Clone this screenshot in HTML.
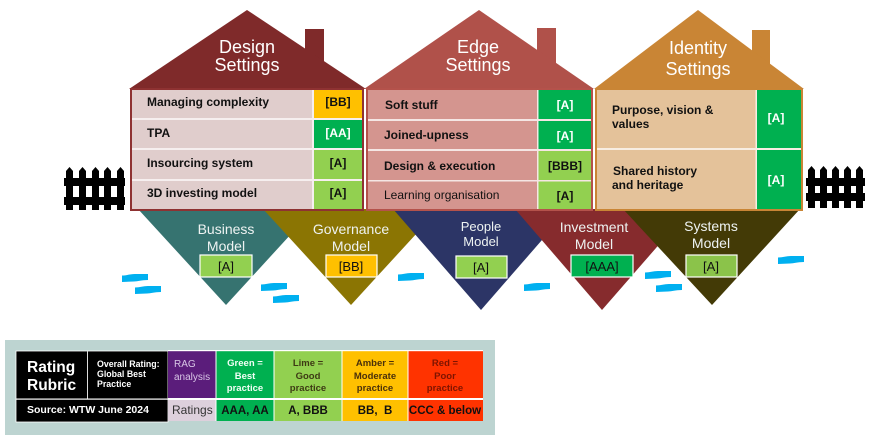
<!DOCTYPE html>
<html><head><meta charset="utf-8"><style>
html,body{margin:0;padding:0;background:#fff;width:871px;height:435px;overflow:hidden}
svg{display:block}
text{font-family:"Liberation Sans",Arial,sans-serif}
</style></head><body>
<svg width="871" height="435" viewBox="0 0 871 435" xmlns="http://www.w3.org/2000/svg">
<!-- triangles -->
<polygon points="138,209 314,209 226,305" fill="#367370"/>
<polygon points="263,209 439,209 351,305" fill="#8b7503"/>
<polygon points="393,209 569,209 481,310" fill="#2c3566"/>
<polygon points="515,209 690,209 602,310" fill="#862b2d"/>
<polygon points="623,209 800,209 712,305" fill="#433a06"/>

<!-- triangle labels -->
<g fill="#eef3f2" font-size="14" text-anchor="middle">
<text x="226" y="234">Business</text><text x="226" y="251">Model</text>
<text x="351" y="234">Governance</text><text x="351" y="251">Model</text>
<text x="481" y="231" font-size="13">People</text><text x="481" y="246" font-size="13">Model</text>
<text x="594" y="232">Investment</text><text x="594" y="249">Model</text>
<text x="711" y="231">Systems</text><text x="711" y="248">Model</text>
</g>
<g stroke="#fff" stroke-width="1.2">
<rect x="200" y="255" width="52" height="22" fill="#92d050"/>
<rect x="326" y="255" width="51" height="22" fill="#ffc000"/>
<rect x="456" y="256" width="51" height="22" fill="#92d050"/>
<rect x="571" y="255" width="62" height="22" fill="#00b050"/>
<rect x="686" y="255" width="51" height="22" fill="#8bc34a"/>
</g>
<g fill="#111" font-size="13" text-anchor="middle">
<text x="226" y="271">[A]</text>
<text x="351" y="271">[BB]</text>
<text x="481" y="272">[A]</text>
<text x="602" y="271">[AAA]</text>
<text x="711" y="271">[A]</text>
</g>

<!-- water dashes -->
<g fill="#00b0f0">
<path d="M0,1.5 C5,1.5 8,0 13,0 L26,0 L26,6 C19,6 16,7.5 12,7.5 L0,8 Z" transform="translate(122,274)"/>
<path d="M0,1.5 C5,1.5 8,0 13,0 L26,0 L26,6 C19,6 16,7.5 12,7.5 L0,8 Z" transform="translate(135,286)"/>
<path d="M0,1.5 C5,1.5 8,0 13,0 L26,0 L26,6 C19,6 16,7.5 12,7.5 L0,8 Z" transform="translate(261,283)"/>
<path d="M0,1.5 C5,1.5 8,0 13,0 L26,0 L26,6 C19,6 16,7.5 12,7.5 L0,8 Z" transform="translate(273,295)"/>
<path d="M0,1.5 C5,1.5 8,0 13,0 L26,0 L26,6 C19,6 16,7.5 12,7.5 L0,8 Z" transform="translate(398,273)"/>
<path d="M0,1.5 C5,1.5 8,0 13,0 L26,0 L26,6 C19,6 16,7.5 12,7.5 L0,8 Z" transform="translate(524,283)"/>
<path d="M0,1.5 C5,1.5 8,0 13,0 L26,0 L26,6 C19,6 16,7.5 12,7.5 L0,8 Z" transform="translate(645,271)"/>
<path d="M0,1.5 C5,1.5 8,0 13,0 L26,0 L26,6 C19,6 16,7.5 12,7.5 L0,8 Z" transform="translate(656,284)"/>
<path d="M0,1.5 C5,1.5 8,0 13,0 L26,0 L26,6 C19,6 16,7.5 12,7.5 L0,8 Z" transform="translate(778,256)"/>
</g>

<!-- fences -->
<g fill="#000">
<g transform="translate(64,167)">
<path d="M2,4 L5.5,0 L9,4 V43 H2Z"/><path d="M15,4 L18.5,0 L22,4 V43 H15Z"/><path d="M28,4 L31.5,0 L35,4 V43 H28Z"/><path d="M40,4 L43.5,0 L47,4 V43 H40Z"/><path d="M53,4 L56.5,0 L60,4 V43 H53Z"/>
<rect x="0" y="11" width="61" height="8"/><rect x="0" y="30" width="61" height="8"/>
</g>
<g transform="translate(806,166)">
<path d="M2,4 L5.5,0 L9,4 V42 H2Z"/><path d="M14,4 L17.5,0 L21,4 V42 H14Z"/><path d="M26,4 L29.5,0 L33,4 V42 H26Z"/><path d="M38,4 L41.5,0 L45,4 V42 H38Z"/><path d="M50,4 L53.5,0 L57,4 V42 H50Z"/>
<rect x="0" y="12" width="59" height="8"/><rect x="0" y="27" width="59" height="8"/>
</g>
</g>

<!-- Design house -->
<rect x="305" y="29" width="19" height="50" fill="#7f2a2a"/>
<polygon points="129,89 247,10 366,89" fill="#7f2a2a"/>
<rect x="131" y="89" width="232" height="121" fill="#e0cdcc" stroke="#8e3232" stroke-width="2"/>
<rect x="314" y="90" width="48" height="28" fill="#ffc000"/>
<rect x="314" y="120" width="48" height="28" fill="#00b050"/>
<rect x="314" y="150" width="48" height="29" fill="#92d050"/>
<rect x="314" y="181" width="48" height="28" fill="#92d050"/>
<g fill="#f6efef"><rect x="132" y="118" width="230" height="2"/><rect x="132" y="148" width="230" height="2"/><rect x="132" y="179" width="230" height="2"/><rect x="312" y="90" width="2" height="119"/></g>
<g fill="#fff" font-size="18" text-anchor="middle"><text x="247" y="53">Design</text><text x="247" y="71">Settings</text></g>
<g font-size="12" font-weight="bold" fill="#111">
<text x="147" y="106">Managing complexity</text>
<text x="147" y="137">TPA</text>
<text x="147" y="167">Insourcing system</text>
<text x="147" y="197">3D investing model</text>
<g text-anchor="middle"><text x="338" y="106">[BB]</text><text x="338" y="137" fill="#fff">[AA]</text><text x="338" y="167">[A]</text><text x="338" y="197">[A]</text></g>
</g>

<!-- Edge house -->
<rect x="537" y="28" width="19" height="50" fill="#b0514a"/>
<polygon points="364,89 479,10 594,89" fill="#b0514a"/>
<rect x="367" y="89" width="225" height="121" fill="#d4958f" stroke="#b4524b" stroke-width="2"/>
<rect x="538" y="90" width="53" height="29" fill="#00b050"/>
<rect x="538" y="121" width="53" height="28" fill="#00b050"/>
<rect x="538" y="151" width="53" height="29" fill="#92d050"/>
<rect x="538" y="181" width="53" height="28" fill="#92d050"/>
<g fill="#f5e6e4"><rect x="368" y="119" width="223" height="2"/><rect x="368" y="149" width="223" height="2"/><rect x="368" y="180" width="223" height="1.5"/><rect x="537" y="90" width="1.5" height="119"/></g>
<g fill="#fff" font-size="18" text-anchor="middle"><text x="478" y="53">Edge</text><text x="478" y="71">Settings</text></g>
<g font-size="12" fill="#111">
<text x="385" y="109" font-weight="bold">Soft stuff</text>
<text x="384" y="139" font-weight="bold">Joined-upness</text>
<text x="384" y="170" font-weight="bold">Design &amp; execution</text>
<text x="384" y="199">Learning organisation</text>
<g text-anchor="middle" font-weight="bold"><text x="565" y="109" fill="#fff">[A]</text><text x="565" y="140" fill="#fff">[A]</text><text x="565" y="170">[BBB]</text><text x="565" y="200">[A]</text></g>
</g>

<!-- Identity house -->
<rect x="752" y="30" width="18" height="45" fill="#c98535"/>
<polygon points="594,89 698,10 804,89" fill="#c98535"/>
<rect x="596" y="89" width="206" height="121" fill="#e4c29a" stroke="#c98535" stroke-width="2"/>
<rect x="757" y="90" width="44" height="58" fill="#00b050"/>
<rect x="757" y="150" width="44" height="59" fill="#00b050"/>
<g fill="#f7ede2"><rect x="597" y="148" width="204" height="2"/><rect x="755.5" y="90" width="1.5" height="119"/></g>
<g fill="#fff" font-size="18" text-anchor="middle"><text x="698" y="54">Identity</text><text x="698" y="75">Settings</text></g>
<g font-size="12" font-weight="bold" fill="#111">
<text x="612" y="114">Purpose, vision &amp;</text>
<text x="612" y="128">values</text>
<text x="613" y="175">Shared history</text>
<text x="612" y="189">and heritage</text>
<g text-anchor="middle" fill="#fff"><text x="776" y="122">[A]</text><text x="776" y="184">[A]</text></g>
</g>

<!-- Rubric -->
<rect x="5" y="340" width="490" height="95" fill="#bdd4d1"/>
<rect x="16" y="351" width="152" height="71" fill="#000" stroke="#fff" stroke-width="0.8"/>
<rect x="87" y="351" width="1" height="48" fill="#ddd"/>
<rect x="16" y="398.5" width="152" height="1.2" fill="#fff"/>
<rect x="168" y="351" width="48" height="47" fill="#5b1d7b"/>
<rect x="168" y="400" width="48" height="21" fill="#ddd0dc"/>
<rect x="216" y="351" width="58" height="47" fill="#00b050"/>
<rect x="274" y="351" width="68" height="47" fill="#92d050"/>
<rect x="342" y="351" width="66" height="47" fill="#ffc000"/>
<rect x="408" y="351" width="75" height="47" fill="#ff3300"/>
<rect x="216" y="400" width="58" height="21" fill="#00b050"/>
<rect x="274" y="400" width="68" height="21" fill="#92d050"/>
<rect x="342" y="400" width="66" height="21" fill="#ffc000"/>
<rect x="408" y="400" width="75" height="21" fill="#ff3300"/>
<g fill="#fff"><rect x="273.5" y="351" width="1" height="70"/><rect x="341.5" y="351" width="1" height="70"/><rect x="407.5" y="351" width="1" height="70"/><rect x="215.5" y="351" width="1" height="70"/><rect x="168" y="398" width="315" height="2"/><rect x="168" y="350" width="315" height="1.2"/></g>
<g fill="#fff" font-weight="bold">
<text x="27" y="372" font-size="15.5">Rating</text>
<text x="27" y="390" font-size="15.5">Rubric</text>
<text x="97" y="367" font-size="8.8">Overall Rating:</text>
<text x="97" y="377" font-size="8.8">Global Best</text>
<text x="97" y="387" font-size="8.8">Practice</text>
<text x="27" y="413" font-size="10.5">Source: WTW June 2024</text>
</g>
<g fill="#d8c6e6" font-size="10"><text x="174" y="367">RAG</text><text x="174" y="380">analysis</text></g>
<text x="172" y="414" font-size="12" fill="#333">Ratings</text>
<g font-size="9.5" font-weight="bold" text-anchor="middle">
<g fill="#f2fff6"><text x="245" y="366">Green =</text><text x="245" y="379">Best</text><text x="245" y="391">practice</text></g>
<g fill="#3d3a14"><text x="308" y="366">Lime =</text><text x="308" y="379">Good</text><text x="308" y="391">practice</text></g>
<g fill="#4a300a"><text x="375" y="366">Amber =</text><text x="375" y="379">Moderate</text><text x="375" y="391">practice</text></g>
<g fill="#7e1400"><text x="445" y="366">Red =</text><text x="445" y="379">Poor</text><text x="445" y="391">practice</text></g>
</g>
<g font-size="11.5" font-weight="bold" text-anchor="middle" fill="#111">
<text x="245" y="414">AAA, AA</text><text x="308" y="414">A, BBB</text><text x="375" y="414">BB,&#160; B</text><text x="445" y="414">CCC &amp; below</text>
</g>
</svg>
</body></html>
